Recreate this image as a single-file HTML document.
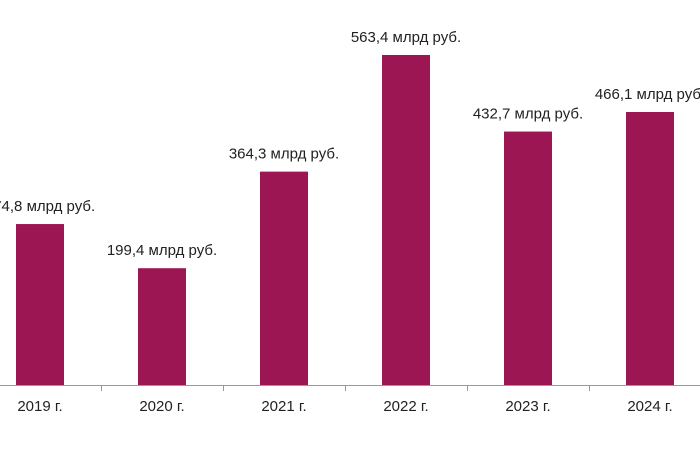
<!DOCTYPE html>
<html><head><meta charset="utf-8"><style>
body{margin:0;background:#fff;}
svg{display:block;font-family:"Liberation Sans",Arial,sans-serif;}
</style></head><body>
<svg id="chart" width="700" height="467" viewBox="0 0 700 467">
<g id="bars"></g><g id="axis"></g><g id="labels"></g>
</svg>
<script>
const categories=["2019 г.","2020 г.","2021 г.","2022 г.","2023 г.","2024 г."];
const values=[274.8,199.4,364.3,563.4,432.7,466.1];
const valueLabels=["274,8 млрд руб.","199,4 млрд руб.","364,3 млрд руб.","563,4 млрд руб.","432,7 млрд руб.","466,1 млрд руб."];
const NS="http://www.w3.org/2000/svg";
const base=385, pxPer=330/563.4, step=122, first=40, bw=48;
const xC=i=>first+i*step;
const yV=v=>base-v*pxPer;
const bars=document.getElementById('bars'),axis=document.getElementById('axis'),labels=document.getElementById('labels');
function mk(tag,attrs,parent){const e=document.createElementNS(NS,tag);for(const k in attrs)e.setAttribute(k,attrs[k]);parent.appendChild(e);return e;}
values.forEach((v,i)=>{
  const r=mk('rect',{x:xC(i)-bw/2,y:yV(v),width:bw,height:base-yV(v),fill:'#9c1654'},bars);
  
  
  const t=mk('text',{x:xC(i),y:yV(v)-13,'text-anchor':'middle','font-size':'15',fill:'#222'},labels);
  t.textContent=valueLabels[i];
  
  
  const c=mk('text',{x:xC(i),y:base+26,'text-anchor':'middle','font-size':'15',fill:'#222'},labels);
  c.textContent=categories[i];
  
  
});
const al=mk('line',{x1:0,x2:700,y1:base+0.5,y2:base+0.5,stroke:'#999','stroke-width':1},axis);


for(let i=-1;i<categories.length;i++){
  const x=Math.round(xC(i)+step/2)+0.5;
  const tk=mk('line',{x1:x,x2:x,y1:base,y2:base+6,stroke:'#999','stroke-width':1},axis);
  
  
}
</script>
</body></html>
